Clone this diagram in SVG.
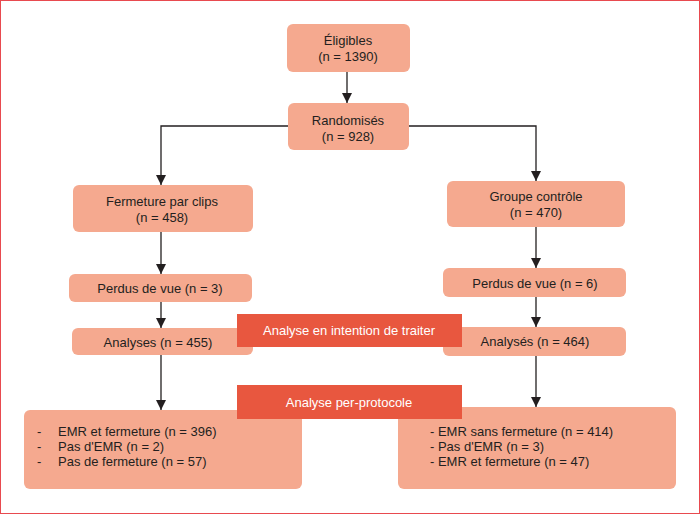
<svg xmlns="http://www.w3.org/2000/svg" width="700" height="514" viewBox="0 0 700 514">
<defs>
<marker id="ah" viewBox="0 0 10 10" refX="10" refY="5" markerWidth="10" markerHeight="10" markerUnits="userSpaceOnUse" orient="auto">
<path d="M0,0 L10,5 L0,10 z" fill="#231f20"/>
</marker>
<style>
.box{fill:#f5a98f;}
.lab{fill:#e8573f;}
text{font-family:"Liberation Sans",Arial,sans-serif;font-size:13px;fill:#231f20;}
.c{text-anchor:middle;}
.w{fill:#ffffff;}
.ln{fill:none;stroke:#231f20;stroke-width:1.3;}
</style>
</defs>
<rect x="0.5" y="0.5" width="699" height="513" fill="#ffffff" stroke="#e84a4f" stroke-width="1"/>
<g id="connectors">
<path class="ln" d="M347,72 V103" marker-end="url(#ah)"/>
<path class="ln" d="M288,126 H161 V185" marker-end="url(#ah)"/>
<path class="ln" d="M409,126 H536 V181" marker-end="url(#ah)"/>
<path class="ln" d="M161,232 V274" marker-end="url(#ah)"/>
<path class="ln" d="M161,302 V328" marker-end="url(#ah)"/>
<path class="ln" d="M161,355 V410" marker-end="url(#ah)"/>
<path class="ln" d="M536,227 V268" marker-end="url(#ah)"/>
<path class="ln" d="M536,297 V327" marker-end="url(#ah)"/>
<path class="ln" d="M536,356 V407" marker-end="url(#ah)"/>
</g>
<g id="eligibles">
<rect class="box" x="287" y="24" width="123" height="48" rx="6"/>
<text class="c" x="348" y="45">Éligibles</text>
<text class="c" x="348" y="61">(n = 1390)</text>
</g>
<g id="randomises">
<rect class="box" x="288" y="103" width="121" height="47" rx="6"/>
<text class="c" x="348" y="125">Randomisés</text>
<text class="c" x="348" y="141">(n = 928)</text>
</g>
<g id="fermeture">
<rect class="box" x="73" y="185" width="180" height="47" rx="6"/>
<text class="c" x="162" y="206">Fermeture par clips</text>
<text class="c" x="162" y="222">(n = 458)</text>
</g>
<g id="controle">
<rect class="box" x="447" y="181" width="178" height="46" rx="6"/>
<text class="c" x="536" y="201">Groupe contrôle</text>
<text class="c" x="536" y="217">(n = 470)</text>
</g>
<g id="perdus-gauche">
<rect class="box" x="69" y="274" width="183" height="28" rx="6"/>
<text class="c" x="160" y="293">Perdus de vue (n = 3)</text>
</g>
<g id="perdus-droite">
<rect class="box" x="443" y="268" width="183" height="29" rx="6"/>
<text class="c" x="535" y="288">Perdus de vue (n = 6)</text>
</g>
<g id="analyses-gauche">
<rect class="box" x="72" y="328" width="181" height="27" rx="6"/>
<text class="c" x="158" y="347">Analyses (n = 455)</text>
</g>
<g id="analyses-droite">
<rect class="box" x="443" y="327" width="183" height="29" rx="6"/>
<text class="c" x="535" y="346">Analysés (n = 464)</text>
</g>
<g id="pp-gauche">
<rect class="box" x="24" y="410" width="278" height="79" rx="6"/>
<text x="37" y="436">-</text>
<text x="58" y="436">EMR et fermeture (n = 396)</text>
<text x="37" y="451">-</text>
<text x="58" y="451">Pas d'EMR (n = 2)</text>
<text x="37" y="466">-</text>
<text x="58" y="466">Pas de fermeture (n = 57)</text>
</g>
<g id="pp-droite">
<rect class="box" x="398" y="407" width="278" height="82" rx="6"/>
<text x="430" y="436">- EMR sans fermeture (n = 414)</text>
<text x="430" y="451">- Pas d'EMR (n = 3)</text>
<text x="430" y="466">- EMR et fermeture (n = 47)</text>
</g>
<g id="itt">
<rect class="lab" x="237" y="314" width="225" height="33"/>
<text class="c w" x="349" y="335">Analyse en intention de traiter</text>
</g>
<g id="pp">
<rect class="lab" x="237" y="385" width="225" height="34"/>
<text class="c w" x="349" y="407">Analyse per-protocole</text>
</g>
</svg>
